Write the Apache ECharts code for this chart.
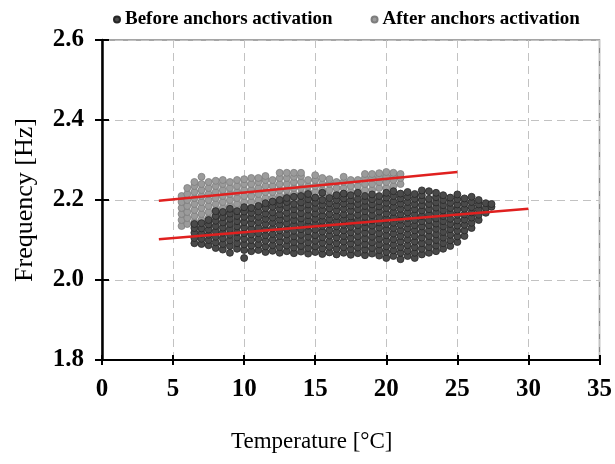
<!DOCTYPE html>
<html>
<head>
<meta charset="utf-8">
<script src="https://cdn.jsdelivr.net/npm/echarts@6/dist/echarts.min.js"></script>
<style>
  html, body { margin: 0; padding: 0; background: #fff; }
  #chart { width: 615px; height: 464px; }
</style>
</head>
<body>
<div id="chart"></div>
<script>
// temperature columns -> frequencies (before anchors activation)
var beforeCols = [
  [6.5, [2.092, 2.105, 2.118, 2.13, 2.14]],
  [7.0, [2.09, 2.103, 2.116, 2.129, 2.142]],
  [7.5, [2.087, 2.1, 2.113, 2.126, 2.139, 2.15]],
  [8.0, [2.08, 2.094, 2.108, 2.122, 2.135, 2.148, 2.16, 2.172]],
  [8.5, [2.076, 2.09, 2.104, 2.118, 2.131, 2.144, 2.157, 2.17]],
  [9.0, [2.068, 2.085, 2.099, 2.113, 2.127, 2.14, 2.153, 2.166, 2.178]],
  [9.5, [2.078, 2.092, 2.106, 2.12, 2.134, 2.147, 2.16, 2.172]],
  [10.0, [2.055, 2.075, 2.089, 2.103, 2.117, 2.131, 2.145, 2.158, 2.171, 2.182]],
  [10.5, [2.072, 2.086, 2.1, 2.114, 2.128, 2.142, 2.155, 2.168, 2.18]],
  [11.0, [2.075, 2.089, 2.103, 2.117, 2.131, 2.145, 2.158, 2.171, 2.185]],
  [11.5, [2.07, 2.084, 2.098, 2.112, 2.126, 2.14, 2.153, 2.166, 2.18, 2.192]],
  [12.0, [2.073, 2.087, 2.101, 2.115, 2.129, 2.143, 2.156, 2.169, 2.183, 2.196]],
  [12.5, [2.068, 2.082, 2.096, 2.11, 2.124, 2.138, 2.151, 2.164, 2.178, 2.19, 2.2]],
  [13.0, [2.072, 2.086, 2.1, 2.114, 2.128, 2.142, 2.155, 2.168, 2.182, 2.195, 2.205]],
  [13.5, [2.067, 2.081, 2.095, 2.109, 2.123, 2.137, 2.15, 2.163, 2.177, 2.19, 2.208]],
  [14.0, [2.071, 2.085, 2.099, 2.113, 2.127, 2.141, 2.154, 2.167, 2.181, 2.194, 2.21]],
  [14.5, [2.066, 2.08, 2.094, 2.108, 2.122, 2.136, 2.149, 2.162, 2.176, 2.189, 2.202, 2.215]],
  [15.0, [2.07, 2.084, 2.098, 2.112, 2.126, 2.14, 2.153, 2.166, 2.18, 2.193, 2.206]],
  [15.5, [2.065, 2.079, 2.093, 2.107, 2.121, 2.135, 2.148, 2.161, 2.175, 2.188, 2.2, 2.218]],
  [16.0, [2.069, 2.083, 2.097, 2.111, 2.125, 2.139, 2.152, 2.165, 2.179, 2.192, 2.205]],
  [16.5, [2.064, 2.078, 2.092, 2.106, 2.12, 2.134, 2.147, 2.16, 2.174, 2.187, 2.2, 2.212]],
  [17.0, [2.068, 2.082, 2.096, 2.11, 2.124, 2.138, 2.151, 2.164, 2.178, 2.191, 2.204, 2.216]],
  [17.5, [2.063, 2.077, 2.091, 2.105, 2.119, 2.133, 2.146, 2.159, 2.173, 2.186, 2.199, 2.212]],
  [18.0, [2.067, 2.081, 2.095, 2.109, 2.123, 2.137, 2.15, 2.163, 2.177, 2.19, 2.203, 2.218]],
  [18.5, [2.062, 2.076, 2.09, 2.104, 2.118, 2.132, 2.145, 2.158, 2.172, 2.185, 2.198, 2.21]],
  [19.0, [2.066, 2.08, 2.094, 2.108, 2.122, 2.136, 2.149, 2.162, 2.176, 2.189, 2.202, 2.214]],
  [19.5, [2.061, 2.075, 2.089, 2.103, 2.117, 2.131, 2.144, 2.157, 2.171, 2.184, 2.197, 2.21]],
  [20.0, [2.055, 2.07, 2.084, 2.098, 2.112, 2.126, 2.14, 2.153, 2.166, 2.18, 2.193, 2.206, 2.218]],
  [20.5, [2.06, 2.074, 2.088, 2.102, 2.116, 2.13, 2.143, 2.156, 2.17, 2.183, 2.196, 2.21, 2.222]],
  [21.0, [2.052, 2.068, 2.082, 2.096, 2.11, 2.124, 2.138, 2.151, 2.164, 2.178, 2.191, 2.204, 2.216]],
  [21.5, [2.06, 2.073, 2.087, 2.101, 2.115, 2.129, 2.142, 2.155, 2.169, 2.182, 2.195, 2.208, 2.22]],
  [22.0, [2.055, 2.068, 2.082, 2.096, 2.11, 2.124, 2.137, 2.15, 2.164, 2.177, 2.19, 2.203, 2.215]],
  [22.5, [2.064, 2.078, 2.092, 2.106, 2.12, 2.134, 2.147, 2.16, 2.174, 2.187, 2.2, 2.212, 2.224]],
  [23.0, [2.068, 2.082, 2.096, 2.11, 2.124, 2.137, 2.15, 2.164, 2.177, 2.19, 2.203, 2.222]],
  [23.5, [2.072, 2.086, 2.1, 2.114, 2.128, 2.141, 2.154, 2.168, 2.181, 2.194, 2.207, 2.218]],
  [24.0, [2.078, 2.092, 2.106, 2.12, 2.134, 2.147, 2.16, 2.174, 2.187, 2.2, 2.212]],
  [24.5, [2.085, 2.099, 2.113, 2.127, 2.14, 2.153, 2.167, 2.18, 2.193, 2.206]],
  [25.0, [2.095, 2.109, 2.123, 2.136, 2.149, 2.163, 2.176, 2.189, 2.202, 2.214]],
  [25.5, [2.11, 2.124, 2.138, 2.151, 2.164, 2.178, 2.191, 2.204]],
  [26.0, [2.13, 2.143, 2.156, 2.169, 2.182, 2.195, 2.208]],
  [26.5, [2.15, 2.163, 2.176, 2.189, 2.2]],
  [27.0, [2.168, 2.18, 2.192]],
  [27.4, [2.183, 2.19]]
];

// after anchors activation
var afterCols = [
  [5.6, [2.135, 2.15, 2.165, 2.18, 2.195, 2.21]],
  [6.0, [2.14, 2.155, 2.17, 2.185, 2.2, 2.215, 2.23]],
  [6.5, [2.145, 2.16, 2.175, 2.19, 2.205, 2.22, 2.235, 2.245]],
  [7.0, [2.15, 2.165, 2.18, 2.195, 2.21, 2.225, 2.24, 2.258]],
  [7.5, [2.155, 2.17, 2.185, 2.2, 2.215, 2.23, 2.245]],
  [8.0, [2.16, 2.175, 2.19, 2.205, 2.22, 2.235, 2.248]],
  [8.5, [2.165, 2.18, 2.195, 2.21, 2.225, 2.24, 2.25]],
  [9.0, [2.17, 2.185, 2.2, 2.215, 2.23, 2.245]],
  [9.5, [2.175, 2.19, 2.205, 2.22, 2.235, 2.25]],
  [10.0, [2.18, 2.195, 2.21, 2.225, 2.24, 2.252]],
  [10.5, [2.18, 2.195, 2.21, 2.225, 2.24, 2.255]],
  [11.0, [2.185, 2.2, 2.215, 2.23, 2.245, 2.255]],
  [11.5, [2.19, 2.205, 2.22, 2.235, 2.25, 2.26]],
  [12.0, [2.19, 2.205, 2.22, 2.235, 2.25]],
  [12.5, [2.195, 2.21, 2.225, 2.24, 2.255, 2.268]],
  [13.0, [2.195, 2.21, 2.225, 2.24, 2.255, 2.268]],
  [13.5, [2.2, 2.215, 2.23, 2.245, 2.258, 2.268]],
  [14.0, [2.2, 2.215, 2.23, 2.245, 2.26, 2.268]],
  [14.5, [2.205, 2.22, 2.235, 2.25]],
  [15.0, [2.205, 2.22, 2.235, 2.25, 2.262]],
  [15.5, [2.21, 2.225, 2.24, 2.255]],
  [16.0, [2.21, 2.225, 2.24, 2.252]],
  [16.5, [2.215, 2.23, 2.245]],
  [17.0, [2.215, 2.23, 2.245, 2.258]],
  [17.5, [2.22, 2.235, 2.25]],
  [18.0, [2.22, 2.235, 2.25]],
  [18.5, [2.225, 2.24, 2.255, 2.265]],
  [19.0, [2.225, 2.24, 2.255, 2.265]],
  [19.5, [2.23, 2.245, 2.258, 2.267]],
  [20.0, [2.23, 2.245, 2.258, 2.27]],
  [20.5, [2.235, 2.25, 2.262, 2.268]],
  [21.0, [2.24, 2.255, 2.265]]
];

// trend lines (end points)
var fitBefore = [[4, 2.102], [30, 2.178]];
var fitAfter = [[4, 2.198], [25, 2.27]];

function toPoints(cols){
    var pts = [];
    cols.forEach(function(c){
        c[1].forEach(function(f){ pts.push([c[0], f]); });
    });
    return pts;
}

var serif = '"Liberation Serif", "Times New Roman", serif';
var chart = echarts.init(document.getElementById('chart'));

var option = {
    backgroundColor: '#fff',
    animation: false,
    legend: {
        top: 5,
        left: 108,
        itemGap: 38,
        itemWidth: 6,
        itemHeight: 6,
        textStyle: { fontFamily: serif, fontWeight: 'bold', fontSize: 19, color: '#000' },
        data: [
            { name: 'Before anchors activation', icon: 'circle' },
            { name: 'After anchors activation', icon: 'circle' }
        ]
    },
    grid: {
        left: 102, right: 14, top: 40, bottom: 104,
        show: true, borderColor: '#888', borderWidth: 1.5
    },
    xAxis: [{
        type: 'value', min: 0, max: 35, interval: 5,
        name: 'Temperature [°C]', nameLocation: 'middle', nameGap: 70,
        nameTextStyle: { fontFamily: serif, fontSize: 23, color: '#000', padding: [0, 78, 0, 0] },
        axisLine: { lineStyle: { color: '#000', width: 2 } },
        axisTick: { length: 5, lineStyle: { color: '#000', width: 2 } },
        axisLabel: { margin: 17, fontFamily: serif, fontWeight: 'bold', fontSize: 25, color: '#000' },
        splitLine: { show: true, lineStyle: { color: '#c2c2c2', type: [8, 5], width: 1 } }
    }, {
        type: 'value', min: 0, max: 35, interval: 5, position: 'bottom',
        axisLine: { show: false },
        axisTick: { inside: true, length: 5, lineStyle: { color: '#000', width: 2 } },
        axisLabel: { show: false }, splitLine: { show: false }
    }],
    yAxis: [{
        type: 'value', min: 1.8, max: 2.6, interval: 0.2,
        name: 'Frequency [Hz]', nameLocation: 'middle', nameGap: 64,
        nameTextStyle: { fontFamily: serif, fontSize: 26, color: '#000' },
        axisLine: { lineStyle: { color: '#000', width: 2.5 } },
        axisTick: { length: 7, lineStyle: { color: '#000', width: 2 } },
        axisLabel: {
            margin: 18, fontFamily: serif, fontWeight: 'bold', fontSize: 25, color: '#000',
            formatter: function(v){ return v.toFixed(1); }
        },
        splitLine: { show: true, lineStyle: { color: '#c2c2c2', type: [8, 5], width: 1 } }
    }, {
        type: 'value', min: 1.8, max: 2.6, interval: 0.2, position: 'left',
        axisLine: { show: false },
        axisTick: { inside: true, length: 7, lineStyle: { color: '#000', width: 2 } },
        axisLabel: { show: false }, splitLine: { show: false }
    }],
    series: [
        {
            name: 'After anchors activation',
            type: 'scatter',
            symbolSize: 7,
            z: 2,
            itemStyle: { color: '#9b9b9b', borderColor: '#7e7e7e', borderWidth: 0.8, opacity: 1 },
            data: toPoints(afterCols)
        },
        {
            name: 'Before anchors activation',
            type: 'scatter',
            symbolSize: 7,
            z: 3,
            itemStyle: { color: '#4a4a4a', borderColor: '#262626', borderWidth: 0.8, opacity: 1 },
            data: toPoints(beforeCols)
        },
        {
            type: 'line', z: 4, symbol: 'none', silent: true,
            lineStyle: { color: '#e0201f', width: 2.5 },
            data: fitAfter
        },
        {
            type: 'line', z: 4, symbol: 'none', silent: true,
            lineStyle: { color: '#e0201f', width: 2.5 },
            data: fitBefore
        }
    ]
};
chart.setOption(option);
</script>
</body>
</html>
